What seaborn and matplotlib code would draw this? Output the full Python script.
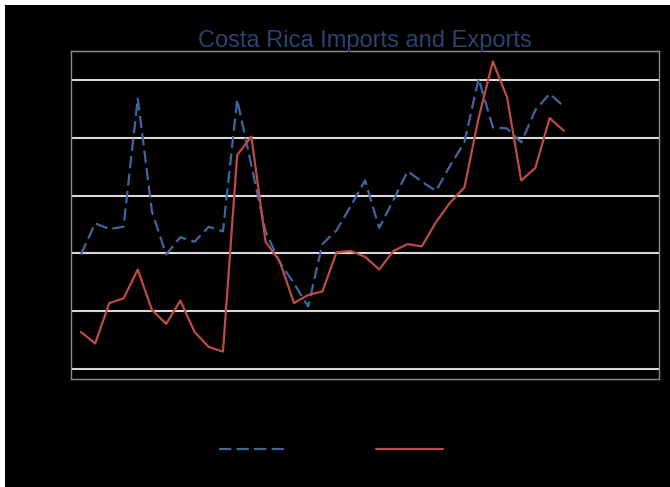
import matplotlib
matplotlib.use("Agg")
import matplotlib.pyplot as plt
from matplotlib.patches import Rectangle
import seaborn as sns
import pandas as pd

years = list(range(1980, 2015))
imports = [29.9, 32.6, 32.1, 32.3, 43.4, 33.6, 29.9, 31.4, 31.0, 32.3,
           31.9, 43.3, 37.6, 31.9, 29.2, 27.4, 25.4, 30.8, 32.0, 34.1,
           36.3, 32.2, 34.6, 37.1, 36.2, 35.4, 37.6, 39.6, 45.1, 40.9,
           40.8, 39.6, 42.4, 43.8, 42.7]
exports = [23.2, 22.2, 25.7, 26.1, 28.6, 25.1, 23.9, 25.9, 23.2, 21.9,
           21.5, 38.5, 40.1, 31.0, 29.3, 25.7, 26.4, 26.7, 30.1, 30.2,
           29.7, 28.6, 30.2, 30.8, 30.6, 32.7, 34.4, 35.7, 41.7, 46.6,
           43.5, 36.3, 37.4, 41.7, 40.6]
y_ticks = [20, 25, 30, 35, 40, 45]
x_ticks = [1980, 1990, 2000, 2010, 2020]
title = "Costa Rica Imports and Exports"

sns.set_style("dark")
plt.rcParams["font.family"] = ["Liberation Sans", "DejaVu Sans"]

fig = plt.figure(figsize=(6.7, 4.87), dpi=100, facecolor="white")
bg = Rectangle((5 / 670, 0), 1 - 5 / 670, 1 - 5 / 487,
               transform=fig.transFigure, facecolor="black",
               edgecolor="none", zorder=-10)
fig.add_artist(bg)

ax = fig.add_axes([71 / 670, 1 - 379 / 487, 588 / 670, 328 / 487])
ax.set_facecolor("black")

df = pd.DataFrame({"Year": years, "Imports": imports, "Exports": exports})
sns.lineplot(data=df, x="Year", y="Imports", ax=ax, color="#3E67A0",
             linewidth=1.6, label="Imports")
sns.lineplot(data=df, x="Year", y="Exports", ax=ax, color="#BE4B48",
             linewidth=1.6, label="Exports")
ax.lines[0].set_dashes([5.5, 2.4])

ax.set_xlim(1979.3, 2020.7)
ax.set_ylim(19.13, 47.5)
ax.set_yticks(y_ticks)
ax.set_xticks(x_ticks)
ax.grid(False)
ax.yaxis.grid(True, color="#d9d9d9", linewidth=1.5)
ax.set_axisbelow(True)
ax.set_xlabel("")
ax.set_ylabel("")
ax.tick_params(axis="both", colors="#808080", labelcolor="black",
               direction="out", length=3, width=1, labelsize=10)
for s in ax.spines.values():
    s.set_visible(True)
    s.set_color("#8c8c8c")
    s.set_linewidth(1)

leg = ax.get_legend()
handles, labels = ax.get_legend_handles_labels()
leg.remove()
fig.legend(handles, labels, loc="center", ncol=2, frameon=False,
           bbox_to_anchor=(358 / 670, 1 - 450 / 487), handlelength=4.8,
           handletextpad=0.5, columnspacing=2.7, fontsize=10,
           labelcolor="black")

fig.text(365 / 670, 1 - 47 / 487, title, color="#2B4472", fontsize=17,
         ha="center", va="baseline")

fig.savefig("out.png", dpi=100, facecolor="white")
